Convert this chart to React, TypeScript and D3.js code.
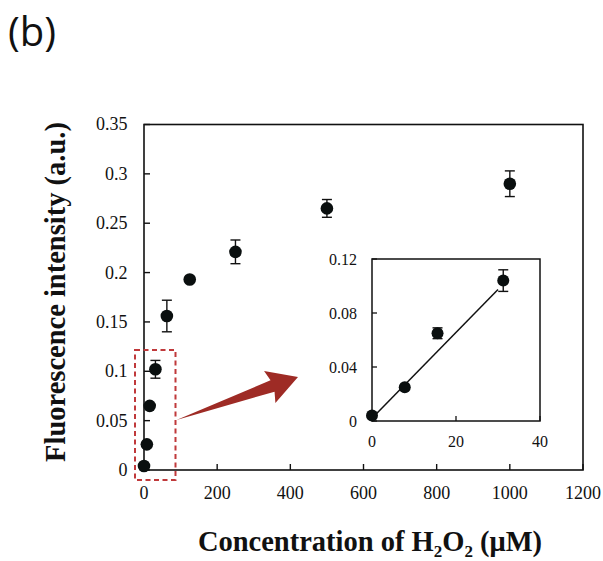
import React from "react";
import * as d3 from "d3";

const concentrations = [0, 7.8, 15.6, 31.25, 62.5, 125, 250, 500, 1000];
const intensities = [0.004, 0.026, 0.065, 0.102, 0.156, 0.193, 0.221, 0.265, 0.290];
const errors = [0, 0, 0.002, 0.009, 0.016, 0.002, 0.012, 0.009, 0.013];

const insetConc = [0, 7.8, 15.6, 31.25];
const insetIntensity = [0.004, 0.025, 0.065, 0.104];
const insetErrors = [0, 0, 0.004, 0.008];
const fitX = [0, 30];
const fitSlope = 0.00318;
const fitIntercept = 0.002;

const xTicks = [0, 200, 400, 600, 800, 1000, 1200];
const yTicks = [0, 0.05, 0.1, 0.15, 0.2, 0.25, 0.3, 0.35];
const yTickLabels = ["0", "0.05", "0.1", "0.15", "0.2", "0.25", "0.3", "0.35"];
const insetXTicks = [0, 20, 40];
const insetYTicks = [0, 0.04, 0.08, 0.12];
const insetYTickLabels = ["0", "0.04", "0.08", "0.12"];

const serif = "'Liberation Serif', 'Times New Roman', serif";

export default function App() {
  const x = d3.scaleLinear().domain([0, 1200]).range([144, 583]);
  const y = d3.scaleLinear().domain([0, 0.35]).range([470, 124.5]);
  const ix = d3.scaleLinear().domain([0, 40]).range([372, 540]);
  const iy = d3.scaleLinear().domain([0, 0.12]).range([421, 259]);

  const line = d3.line<number>().x((d) => ix(d)).y((d) => iy(fitSlope * d + fitIntercept));

  // arrow
  const tail = [176.5, 420];
  const tip = [298, 377];
  const dx = tip[0] - tail[0];
  const dy = tip[1] - tail[1];
  const len = Math.hypot(dx, dy);
  const u = [dx / len, dy / len];
  const n = [-u[1], u[0]];
  const headLen = 27;
  const headHalf = 17;
  const shaftHalf = 6;
  const base = [tip[0] - headLen * u[0], tip[1] - headLen * u[1]];
  const arrowPts = [
    tail,
    [base[0] - shaftHalf * n[0], base[1] - shaftHalf * n[1]],
    [base[0] - headHalf * n[0] - 3 * u[0], base[1] - headHalf * n[1] - 3 * u[1]],
    tip,
    [base[0] + headHalf * n[0] - 3 * u[0], base[1] + headHalf * n[1] - 3 * u[1]],
    [base[0] + shaftHalf * n[0], base[1] + shaftHalf * n[1]],
  ];

  return (
    <svg width={603} height={561} style={{ position: "absolute", left: 0, top: 0, background: "#fff" }}>
      <rect x={0} y={0} width={603} height={561} fill="#fff" />
      <text x={8} y={46} fontFamily="'Open Sans', 'Noto Sans', sans-serif" fontSize={40} fill="#111">(b)</text>

      {/* main frame */}
      <rect x={x(0)} y={y(0.35)} width={x(1200) - x(0)} height={y(0) - y(0.35)} fill="none" stroke="#111" strokeWidth={1.6} />
      {yTicks.map((t, i) => (
        <g key={"yt" + i}>
          <line x1={x(0)} x2={x(0) + 6} y1={y(t)} y2={y(t)} stroke="#111" strokeWidth={1.4} />
          <text x={127.5} y={y(t)} dy="0.33em" textAnchor="end" fontFamily={serif} fontSize={18} fill="#111">{yTickLabels[i]}</text>
        </g>
      ))}
      {xTicks.map((t, i) => (
        <g key={"xt" + i}>
          <line x1={x(t)} x2={x(t)} y1={y(0)} y2={y(0) - 6} stroke="#111" strokeWidth={1.4} />
          <text x={x(t)} y={493} dy="0.35em" textAnchor="middle" fontFamily={serif} fontSize={18} fill="#111">{t}</text>
        </g>
      ))}

      {/* error bars and points */}
      {concentrations.map((c, i) => (
        <g key={"p" + i}>
          {errors[i] > 0.003 && (
            <g stroke="#111" strokeWidth={1.4}>
              <line x1={x(c)} x2={x(c)} y1={y(intensities[i] - errors[i])} y2={y(intensities[i] + errors[i])} />
              <line x1={x(c) - 5} x2={x(c) + 5} y1={y(intensities[i] - errors[i])} y2={y(intensities[i] - errors[i])} />
              <line x1={x(c) - 5} x2={x(c) + 5} y1={y(intensities[i] + errors[i])} y2={y(intensities[i] + errors[i])} />
            </g>
          )}
          <circle cx={x(c)} cy={y(intensities[i])} r={6.3} fill="#0a0f0f" />
        </g>
      ))}

      {/* dashed box */}
      <rect x={135} y={350} width={40.5} height={130} fill="none" stroke="#c0393b" strokeWidth={2} strokeDasharray="5,3.5" />

      {/* arrow */}
      <polygon points={arrowPts.map((p) => p.join(",")).join(" ")} fill="#9e2b25" />

      {/* inset */}
      <rect x={ix(0)} y={iy(0.12)} width={ix(40) - ix(0)} height={iy(0) - iy(0.12)} fill="#fff" stroke="#111" strokeWidth={1.5} />
      {insetYTicks.map((t, i) => (
        <g key={"iyt" + i}>
          <line x1={ix(0)} x2={ix(0) + 5} y1={iy(t)} y2={iy(t)} stroke="#111" strokeWidth={1.3} />
          <text x={357} y={iy(t)} dy="0.35em" textAnchor="end" fontFamily={serif} fontSize={16} fill="#111">{insetYTickLabels[i]}</text>
        </g>
      ))}
      {insetXTicks.map((t, i) => (
        <g key={"ixt" + i}>
          <line x1={ix(t)} x2={ix(t)} y1={iy(0)} y2={iy(0) - 5} stroke="#111" strokeWidth={1.3} />
          <text x={ix(t)} y={441} dy="0.35em" textAnchor="middle" fontFamily={serif} fontSize={16} fill="#111">{t}</text>
        </g>
      ))}
      <path d={line(fitX) || ""} fill="none" stroke="#111" strokeWidth={1.5} />
      {insetConc.map((c, i) => (
        <g key={"ip" + i}>
          {insetErrors[i] > 0 && (
            <g stroke="#111" strokeWidth={1.4}>
              <line x1={ix(c)} x2={ix(c)} y1={iy(insetIntensity[i] - insetErrors[i])} y2={iy(insetIntensity[i] + insetErrors[i])} />
              <line x1={ix(c) - 5} x2={ix(c) + 5} y1={iy(insetIntensity[i] - insetErrors[i])} y2={iy(insetIntensity[i] - insetErrors[i])} />
              <line x1={ix(c) - 5} x2={ix(c) + 5} y1={iy(insetIntensity[i] + insetErrors[i])} y2={iy(insetIntensity[i] + insetErrors[i])} />
            </g>
          )}
          <circle cx={ix(c)} cy={iy(insetIntensity[i])} r={6} fill="#0a0f0f" />
        </g>
      ))}

      {/* axis titles */}
      <text x={370} y={551} textAnchor="middle" fontFamily={serif} fontWeight="bold" fontSize={28.5} fill="#111">
        Concentration of H<tspan fontSize={17} dy={6}>2</tspan><tspan dy={-6}>O</tspan><tspan fontSize={17} dy={6}>2</tspan><tspan dy={-6}> (μM)</tspan>
      </text>
      <text transform="translate(65,292) rotate(-90)" textAnchor="middle" fontFamily={serif} fontWeight="bold" fontSize={28.5} fill="#111">
        Fluorescence intensity (a.u.)
      </text>
    </svg>
  );
}
